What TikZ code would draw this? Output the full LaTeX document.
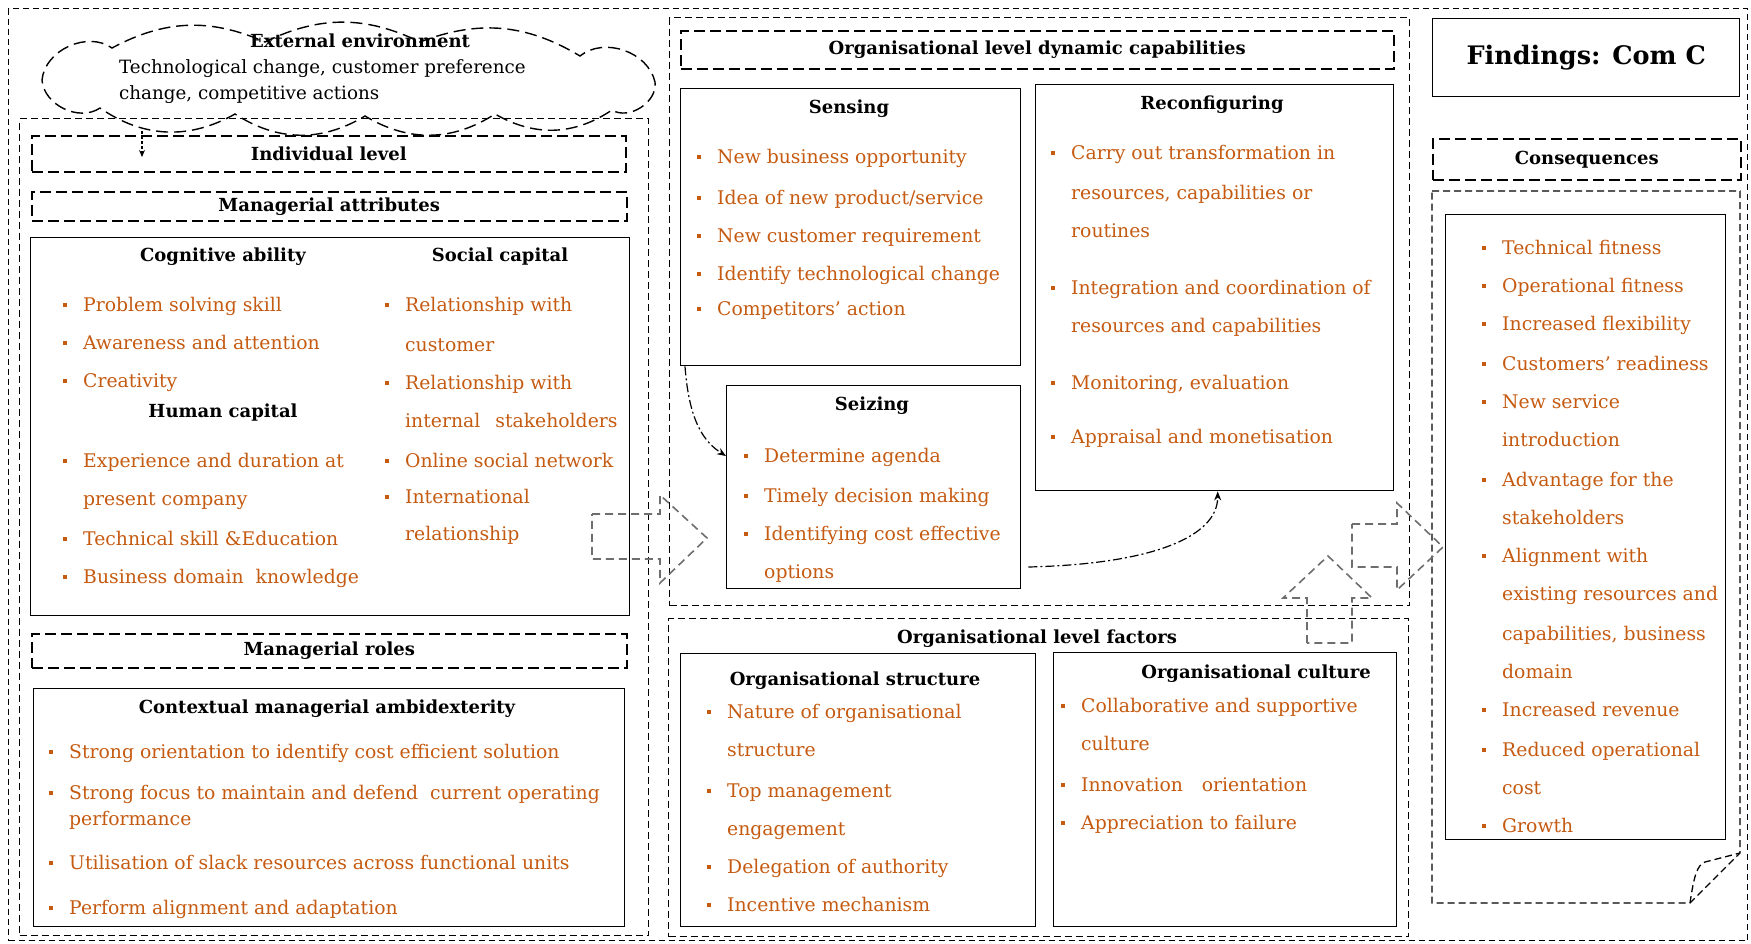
\documentclass[tikz,border=0pt]{standalone}
\usepackage{fontspec}
\setmainfont{DejaVu Serif}
\usetikzlibrary{arrows.meta}
\definecolor{itemorange}{RGB}{197,90,17}
\definecolor{arrowgray}{RGB}{110,110,110}
\newcommand\bodyfont{\fontsize{18.8}{22}\selectfont}
\newcommand\headfont{\fontsize{18}{22}\selectfont\bfseries}
\newcommand\bul{\llap{\rule[0.22em]{4pt}{4pt}\hspace{16pt}}}
% rectangle node given by its top-left and bottom-right corners
\newcommand\rect[7]{\node[#1, anchor=north west, minimum width={#5-#3}, minimum height={#6-#4}] (#2) at (#3,#4) {#7};}
% one line of an orange bullet list (baseline position)
\newcommand\itm[4]{\node[itemtext] (#1) at (#2,#3) {#4};}
% bold heading centred on x, on baseline y
\newcommand\hd[4]{\node[headtext] (#1) at (#2,#3) {#4};}
\begin{document}
\begin{tikzpicture}[x=1pt,y=-1pt,
  solidbox/.style={draw, line width=1.4pt, inner sep=0pt},
  outerdash/.style={draw, line width=1.1pt, dash pattern=on 6pt off 4pt},
  paneldash/.style={draw, line width=1.3pt, dash pattern=on 7pt off 4pt},
  headdash/.style={draw, line width=1.5pt, dash pattern=on 11pt off 5pt, inner sep=0pt, font=\headfont},
  clouddash/.style={draw, line width=1.4pt, dash pattern=on 12pt off 6pt},
  blockarrow/.style={draw=arrowgray, line width=1.6pt, dash pattern=on 8pt off 5pt, line join=miter},
  flowarrow/.style={line width=1.2pt, dash pattern=on 9pt off 3pt on 2pt off 3pt,
    -{Stealth[length=9pt,width=7pt]}},
  itemtext/.style={anchor=base west, inner sep=0pt, text=itemorange, font=\bodyfont},
  headtext/.style={anchor=base, inner sep=0pt, font=\headfont},
  exttext/.style={anchor=base west, inner sep=0pt, font=\fontsize{18.3}{22}\selectfont}]
\useasboundingbox (0,0) rectangle (1751,943);

% ---- outer frame and the three columns ----
\rect{outerdash}{outer}{8}{8}{1747}{940}{}
\rect{paneldash}{leftpanel}{19}{118}{648}{935}{}
\rect{paneldash}{midtop}{669}{17}{1409}{605}{}
\rect{paneldash}{midbot}{668}{618}{1408}{936}{}

% ---- external environment cloud ----
\draw[clouddash] (100,108) to[bend left=60] (42,80) to[bend left=60] (112,48)
  to[bend left=26] (265,42) to[bend left=26] (420,42) to[bend left=26] (580,56)
  to[bend left=58] (655,82) to[bend left=65] (612,110)
  to[bend left=32] (495,114) to[bend left=32] (365,116) to[bend left=32] (235,114)
  to[bend left=32] cycle;
\hd{exth}{360}{47}{External environment}
\node[exttext] (ext1) at (119,73) {Technological change, customer preference};
\node[exttext] (ext2) at (119,99) {change, competitive actions};

% ---- individual level ----
\rect{headdash}{indiv}{31}{135}{625}{171}{Individual level}
\rect{headdash}{mattr}{31}{191}{626}{220}{\raisebox{-2pt}{Managerial attributes}}
\rect{solidbox}{attrbox}{30}{237}{629}{615}{}
\hd{cogh}{223}{261}{Cognitive ability}
\hd{soch}{500}{261}{Social capital}
\hd{humh}{223}{417}{Human capital}
\itm{ca1}{83}{311}{\bul Problem solving skill}
\itm{ca2}{83}{349}{\bul Awareness and attention}
\itm{ca3}{83}{387}{\bul Creativity}
\itm{hc1}{83}{467}{\bul Experience and duration at}
\itm{hc1b}{83}{505}{present company}
\itm{hc2}{83}{545}{\bul Technical skill \&Education}
\itm{hc3}{83}{583}{\bul Business domain\ \ knowledge}
\itm{sc1}{405}{311}{\bul Relationship with}
\itm{sc1b}{405}{351}{customer}
\itm{sc2}{405}{389}{\bul Relationship with}
\itm{sc2b}{405}{427}{internal\hspace{0.8em}stakeholders}
\itm{sc3}{405}{467}{\bul Online social network}
\itm{sc4}{405}{503}{\bul International}
\itm{sc4b}{405}{540}{relationship}

\rect{headdash}{mroles}{31}{633}{626}{667}{Managerial roles}
\rect{solidbox}{ctxbox}{33}{688}{624}{926}{}
\hd{ctxh}{327}{713}{Contextual managerial ambidexterity}
\itm{cm1}{69}{758}{\bul Strong orientation to identify cost efficient solution}
\itm{cm2}{69}{799}{\bul Strong focus to maintain and defend\ \ current operating}
\itm{cm2b}{69}{825}{performance}
\itm{cm3}{69}{869}{\bul Utilisation of slack resources across functional units}
\itm{cm4}{69}{914}{\bul Perform alignment and adaptation}

% ---- organisational level dynamic capabilities ----
\rect{headdash}{odc}{680}{30}{1393}{68}{Organisational level dynamic capabilities}
\rect{solidbox}{sens}{680}{88}{1020}{365}{}
\hd{sensh}{849}{113}{Sensing}
\itm{se1}{717}{163}{\bul New business opportunity}
\itm{se2}{717}{204}{\bul Idea of new product/service}
\itm{se3}{717}{242}{\bul New customer requirement}
\itm{se4}{717}{280}{\bul Identify technological change}
\itm{se5}{717}{315}{\bul Competitors’ action}

\rect{solidbox}{reconf}{1035}{84}{1393}{490}{}
\hd{reconfh}{1212}{109}{Reconfiguring}
\itm{rc1}{1071}{159}{\bul Carry out transformation in}
\itm{rc1b}{1071}{199}{resources, capabilities or}
\itm{rc1c}{1071}{237}{routines}
\itm{rc2}{1071}{294}{\bul Integration and coordination of}
\itm{rc2b}{1071}{332}{resources and capabilities}
\itm{rc3}{1071}{389}{\bul Monitoring, evaluation}
\itm{rc4}{1071}{443}{\bul Appraisal and monetisation}

\rect{solidbox}{seiz}{726}{385}{1020}{588}{}
\hd{seizh}{872}{410}{Seizing}
\itm{sz1}{764}{462}{\bul Determine agenda}
\itm{sz2}{764}{502}{\bul Timely decision making}
\itm{sz3}{764}{540}{\bul Identifying cost effective}
\itm{sz3b}{764}{578}{options}

% ---- organisational level factors ----
\hd{olfh}{1037}{643}{Organisational level factors}
\rect{solidbox}{ostruct}{680}{653}{1035}{926}{}
\hd{osh}{855}{685}{Organisational structure}
\itm{os1}{727}{718}{\bul Nature of organisational}
\itm{os1b}{727}{756}{structure}
\itm{os2}{727}{797}{\bul Top management}
\itm{os2b}{727}{835}{engagement}
\itm{os3}{727}{873}{\bul Delegation of authority}
\itm{os4}{727}{911}{\bul Incentive mechanism}

\rect{solidbox}{oculture}{1053}{652}{1396}{926}{}
\hd{och}{1256}{678}{Organisational culture}
\itm{oc1}{1081}{712}{\bul Collaborative and supportive}
\itm{oc1b}{1081}{750}{culture}
\itm{oc2}{1081}{791}{\bul Innovation\hspace{1em}orientation}
\itm{oc3}{1081}{829}{\bul Appreciation to failure}

% ---- findings and consequences ----
\rect{solidbox}{findings}{1432}{18}{1739}{96}{\fontsize{25.5}{30}\selectfont\bfseries Findings: Com C}
\rect{headdash}{conshead}{1432}{138}{1740}{179}{Consequences}
% container with a folded lower-right corner
\draw[paneldash] (1432,191) -- (1740,191) -- (1740,853) -- (1690,903) -- (1432,903) -- cycle;
\draw[paneldash] (1690,903) .. controls (1694,876) and (1697,865) .. (1705,862) -- (1740,853);
\rect{solidbox}{consbox}{1445}{214}{1725}{839}{}
\itm{cq1}{1502}{254}{\bul Technical fitness}
\itm{cq2}{1502}{292}{\bul Operational fitness}
\itm{cq3}{1502}{330}{\bul Increased flexibility}
\itm{cq4}{1502}{370}{\bul Customers’ readiness}
\itm{cq5}{1502}{408}{\bul New service}
\itm{cq5b}{1502}{446}{introduction}
\itm{cq6}{1502}{486}{\bul Advantage for the}
\itm{cq6b}{1502}{524}{stakeholders}
\itm{cq7}{1502}{562}{\bul Alignment with}
\itm{cq7b}{1502}{600}{existing resources and}
\itm{cq7c}{1502}{640}{capabilities, business}
\itm{cq7d}{1502}{678}{domain}
\itm{cq8}{1502}{716}{\bul Increased revenue}
\itm{cq9}{1502}{756}{\bul Reduced operational}
\itm{cq9b}{1502}{794}{cost}
\itm{cq10}{1502}{832}{\bul Growth}

% ---- block arrows between the levels ----
\draw[blockarrow] (592,514) -- (660,514) -- (660,495) -- (707,538) -- (660,583) -- (660,559) -- (592,559) -- cycle;
\draw[blockarrow] (1307,643) -- (1307,598) -- (1283,598) -- (1328,556) -- (1372,598) -- (1352,598) -- (1352,643) -- cycle;
\draw[blockarrow] (1352,524) -- (1397,524) -- (1397,503) -- (1443,547) -- (1397,590) -- (1397,567) -- (1352,567) -- cycle;

% ---- flow between the dynamic capabilities ----
\coordinate (cloudout) at (142,131);
\coordinate (indivin) at (142,157);
\draw[flowarrow, dash pattern=on 3pt off 2pt, -{Stealth[length=7pt,width=6pt]}] (cloudout) -- (indivin);
\draw[flowarrow] ([xshift=5pt]sens.south west) .. controls +(4,55) and +(-22,-14) .. ([yshift=-71pt]seiz.north west);
\draw[flowarrow] ([shift={(7,182)}]seiz.north east) .. controls +(125,-3) and +(0,45) .. ([xshift=3pt]reconf.south);
\end{tikzpicture}
\end{document}
